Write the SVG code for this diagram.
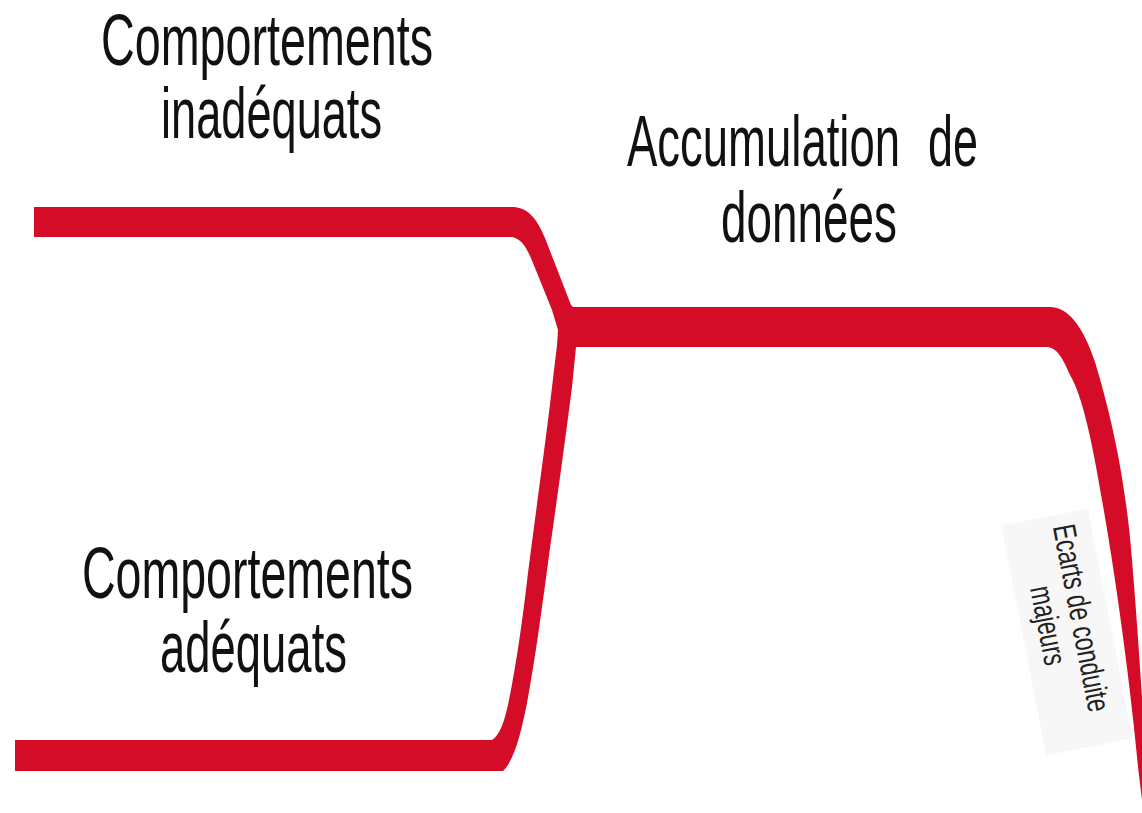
<svg xmlns="http://www.w3.org/2000/svg" width="1142" height="813" viewBox="0 0 1142 813">
<style>
.lbl{font-family:"Liberation Sans",Arial,sans-serif;font-size:72px;fill:#111;}
.small{font-family:"Liberation Sans",Arial,sans-serif;font-size:32px;fill:#222;}
.red{fill:#D50C27;}
</style>
<rect width="1142" height="813" fill="#fff"/>
<g id="connectors">
<path class="red" d="M34,207 L512,207 C526,207 536,216 545,238 L571,305 L573,307 L1050,307 C1068,307 1083,326 1095,362 C1108,405 1125,470 1132,560 C1137,620 1141,680 1146,760 L1160,760 L1160,805 L1142,800 L1138,767 C1132,700 1118,590 1102,500 C1092,440 1082,395 1070,375 C1062,356 1056,348 1048,347 L576,347 L572,387 C564,450 554,520 548,563 C541,615 535,660 527,703 C522,728 515,760 503,771 L15,771 L15,740 L492,740 C500,735 505,720 509,700 C516,665 522,625 528,573 C536,510 546,440 552,387 L557,345 L558,330 L552,310 L533,263 C527,248 522,239 512,237 L34,237 Z"/>
</g>
<g id="node-inadequats">
<text class="lbl" x="101" y="65" textLength="332" lengthAdjust="spacingAndGlyphs">Comportements</text>
<text class="lbl" x="161" y="138" textLength="221" lengthAdjust="spacingAndGlyphs">inadéquats</text>
</g>
<g id="node-accumulation">
<text class="lbl" y="166"><tspan x="627" textLength="273" lengthAdjust="spacingAndGlyphs">Accumulation</tspan> <tspan x="928" textLength="50" lengthAdjust="spacingAndGlyphs">de</tspan></text>
<text class="lbl" x="721" y="242" textLength="176" lengthAdjust="spacingAndGlyphs">données</text>
</g>
<g id="node-adequats">
<text class="lbl" x="82" y="598" textLength="331" lengthAdjust="spacingAndGlyphs">Comportements</text>
<text class="lbl" x="160" y="672" textLength="187" lengthAdjust="spacingAndGlyphs">adéquats</text>
</g>
<g id="node-ecarts" transform="translate(1067,632) rotate(79)">
<rect x="-117" y="-44" width="234" height="88" fill="#F7F7F7"/>
<text class="small" x="-106" y="-6" textLength="190" lengthAdjust="spacingAndGlyphs">Ecarts de conduite</text>
<text class="small" x="-50" y="28" textLength="80" lengthAdjust="spacingAndGlyphs">majeurs</text>
</g>
</svg>
